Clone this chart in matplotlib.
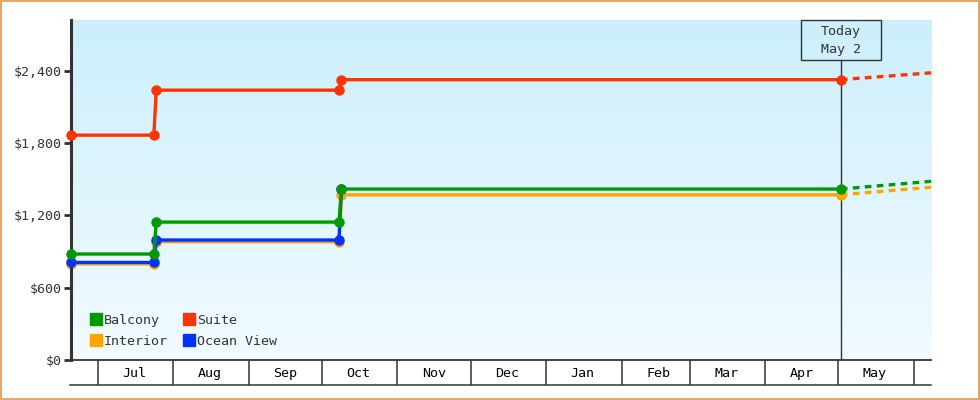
import numpy as np
import matplotlib
matplotlib.use("Agg")
import matplotlib.pyplot as plt
import matplotlib.dates as mdates
from matplotlib.lines import Line2D
from matplotlib.patches import Rectangle
from matplotlib.ticker import FuncFormatter
from datetime import date

# price history (dates where the fare changed)
balcony_dates = [date(2024, 6, 20), date(2024, 7, 24), date(2024, 7, 25), date(2024, 10, 8), date(2024, 10, 9), date(2025, 5, 2)]
balcony_prices = [879, 879, 1144, 1144, 1418, 1418]

interior_dates = [date(2024, 6, 20), date(2024, 7, 24), date(2024, 7, 25), date(2024, 10, 8), date(2024, 10, 9), date(2025, 5, 2)]
interior_prices = [797, 797, 981, 981, 1370, 1370]

ocean_dates = [date(2024, 6, 20), date(2024, 7, 24), date(2024, 7, 25), date(2024, 10, 8), date(2024, 10, 9)]
ocean_prices = [809, 809, 995, 995, 1418]

suite_dates = [date(2024, 6, 20), date(2024, 7, 24), date(2024, 7, 25), date(2024, 10, 8), date(2024, 10, 9), date(2025, 5, 2)]
suite_prices = [1865, 1865, 2238, 2238, 2325, 2325]

# forecast after today
forecast_dates = [date(2025, 5, 2), date(2025, 6, 8)]
balcony_forecast = [1418, 1482]
interior_forecast = [1370, 1433]
suite_forecast = [2325, 2382]

today = date(2025, 5, 2)
month_labels = ['Jul', 'Aug', 'Sep', 'Oct', 'Nov', 'Dec', 'Jan', 'Feb', 'Mar', 'Apr', 'May']
y_ticks = [0, 600, 1200, 1800, 2400]

GREEN = '#009900'
ORANGE = '#ffa500'
BLUE = '#0033ff'
RED = '#ff3300'
DARK = '#333333'

plt.rcParams['font.family'] = ['DejaVu Sans Mono']
plt.rcParams['font.size'] = 9.6

fig = plt.figure(figsize=(9.8, 4), dpi=100)
ax = fig.add_axes([71 / 980, 40 / 400, 860 / 980, 340 / 400])

# gradient background
grad = np.linspace(0, 1, 256).reshape(-1, 1)
top = np.array([204, 239, 252]) / 255
bot = np.array([242, 251, 255]) / 255
img = top[None, None, :] * (1 - grad[:, :, None]) + bot[None, None, :] * grad[:, :, None]
ax.imshow(img, extent=[0, 1, 0, 1], transform=ax.transAxes, aspect='auto', zorder=0)

x0 = mdates.date2num(date(2024, 6, 20))
x1 = mdates.date2num(date(2025, 6, 8))
ax.set_xlim(x0, x1)
ax.set_ylim(0, 2820)

lw = 2.4
ms = 6.5
ax.plot(forecast_dates, balcony_forecast, color=GREEN, lw=lw, dashes=(2, 1.6), zorder=3)
ax.plot(forecast_dates, interior_forecast, color=ORANGE, lw=lw, dashes=(2, 1.6), zorder=2)
ax.plot(forecast_dates, suite_forecast, color=RED, lw=lw, dashes=(2, 1.6), zorder=5)

ax.plot(interior_dates, interior_prices, color=ORANGE, lw=lw, marker='o', ms=ms, zorder=2, clip_on=False)
ax.plot(ocean_dates, ocean_prices, color=BLUE, lw=lw, marker='o', ms=ms, zorder=3, clip_on=False)
ax.plot(balcony_dates, balcony_prices, color=GREEN, lw=lw, marker='o', ms=ms, zorder=4, clip_on=False)
ax.plot(suite_dates, suite_prices, color=RED, lw=lw, marker='o', ms=ms, zorder=5, clip_on=False)

# today marker with label box
tx = mdates.date2num(today)
box_h = 40 / 340
ax.axvline(tx, ymax=1 - box_h, color=DARK, lw=1, zorder=1)
half_w = 40 / 860 * (x1 - x0)
ax.add_patch(Rectangle((tx - half_w, 1 - box_h), 2 * half_w, box_h, transform=ax.get_xaxis_transform(),
                       fill=False, ec=DARK, lw=1, zorder=6, clip_on=False))
ax.text(tx, 1 - 12 / 340, 'Today', transform=ax.get_xaxis_transform(), ha='center', va='center',
        color=DARK, zorder=6)
ax.text(tx, 1 - 30 / 340, 'May 2', transform=ax.get_xaxis_transform(), ha='center', va='center',
        color=DARK, zorder=6)

# axes styling
for s in ['top', 'right']:
    ax.spines[s].set_visible(False)
ax.spines['left'].set_linewidth(2.2)
ax.spines['left'].set_color(DARK)
ax.spines['bottom'].set_linewidth(1.3)
ax.spines['bottom'].set_color(DARK)

ax.set_yticks(y_ticks)
ax.yaxis.set_major_formatter(FuncFormatter(lambda v, p: '${:,.0f}'.format(v)))
ax.tick_params(axis='y', direction='out', length=5, width=2, color=DARK, labelcolor=DARK, pad=2)

ax.xaxis.set_major_locator(mdates.MonthLocator())
ax.xaxis.set_major_formatter(plt.NullFormatter())
ax.tick_params(axis='x', which='major', direction='out', length=18, width=1.1, color=DARK)
mid_ticks = [mdates.date2num(date(2024 + (m + 6 > 12), (m + 6 - 1) % 12 + 1, 16)) for m in range(1, 12)]
ax.set_xticks(mid_ticks, minor=True)
ax.set_xticklabels(month_labels, minor=True)
ax.tick_params(axis='x', which='minor', length=0, pad=5, labelcolor='black')

fig.add_artist(Line2D([70 / 980, 931 / 980], [15 / 400, 15 / 400], color=DARK, lw=1.1))

# legend
handles = [Line2D([], [], marker='s', ls='none', color=c, ms=8) for c in [GREEN, ORANGE, RED, BLUE]]
leg = ax.legend(handles, ['Balcony', 'Interior', 'Suite', 'Ocean View'], ncol=2, loc='lower left',
                bbox_to_anchor=((90 - 71) / 860, (360 - 348) / 340), frameon=False, borderpad=0,
                handlelength=0.9, handletextpad=0.15, columnspacing=1.1, labelspacing=0.62, borderaxespad=0)
for t in leg.get_texts():
    t.set_color(DARK)

# outer border
fig.add_artist(Rectangle((0.001, 0.002), 0.998, 0.996, transform=fig.transFigure, fill=False,
                         ec='#e8a868', lw=1.5))

fig.savefig('out.png', dpi=100)
